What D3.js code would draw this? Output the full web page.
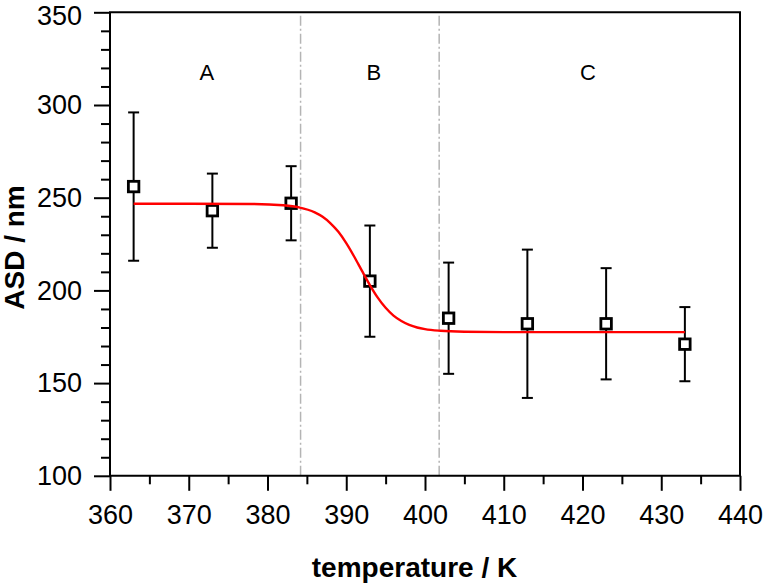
<!DOCTYPE html>
<html>
<head>
<meta charset="utf-8">
<script src="https://cdn.jsdelivr.net/npm/d3@7"></script>
<style>
  html, body { margin: 0; padding: 0; background: #fff; }
  svg text { font-family: "Liberation Sans", Arial, Helvetica, sans-serif; }
</style>
</head>
<body>
<svg id="chart" width="763" height="584"></svg>
<script>
// ---- data ----
const temperature = [363, 373, 383, 393, 403, 413, 423, 433];
const asd        = [256, 243, 247, 205, 185, 182, 182, 171];
const asdError   = [40, 20, 20, 30, 30, 40, 30, 20];

// fitted sigmoid curve
const fitT   = [363, 370, 378, 382, 384, 386, 387, 388, 389, 390, 391, 392, 393, 394, 395, 396, 397, 398, 399, 400, 402, 405, 410, 433];
const fitASD = [246.7, 246.7, 246.6, 245.9, 244.8, 242.1, 239.7, 236.2, 231.6, 225.5, 218.3, 210.5, 202.9, 196.1, 190.6, 186.4, 183.5, 181.4, 180.0, 179.1, 178.2, 177.7, 177.5, 177.5];

const regionBounds  = [384.2, 401.8];
const regionLabels  = ["A", "B", "C"];
const regionCenters = [372.3, 393.5, 420.7];

const xMajorTicks = [360, 370, 380, 390, 400, 410, 420, 430, 440];
const xMinorTicks = [365, 375, 385, 395, 405, 415, 425, 435];
const yMajorTicks = [100, 150, 200, 250, 300, 350];
const yMinorTicks = [110, 120, 130, 140, 160, 170, 180, 190, 210, 220, 230, 240, 260, 270, 280, 290, 310, 320, 330, 340];

const xTitle = "temperature / K";
const yTitle = "ASD / nm";

// ---- layout ----
const L = 110, R = 740, T = 12.3, B = 475.8;
const svg = d3.select("#chart");
const x = d3.scaleLinear().domain([360, 440]).range([L, R]);
const y = d3.scaleLinear().domain([100, 350]).range([B, T]);

// region separators (dash-dot)
svg.append("g").selectAll("line").data(regionBounds).join("line")
  .attr("x1", d => x(d)).attr("x2", d => x(d))
  .attr("y1", B).attr("y2", T)
  .attr("stroke", "#b4b4b4").attr("stroke-width", 1.5)
  .attr("stroke-dasharray", "10,3,2,3");

// region labels
svg.append("g").selectAll("text").data(regionLabels).join("text")
  .attr("x", (d, i) => x(regionCenters[i]))
  .attr("y", 79.5)
  .attr("text-anchor", "middle")
  .attr("font-size", 22)
  .attr("fill", "#000")
  .text(d => d);

// axes
const axisStyle = g => {
  g.select(".domain").remove();
  g.selectAll("line").attr("stroke", "#000").attr("stroke-width", 2);
  g.selectAll("text").attr("font-size", 27).attr("fill", "#000")
    .attr("font-family", "'Liberation Sans', Arial, sans-serif");
};

svg.append("g").attr("transform", `translate(0,${B})`)
  .call(d3.axisBottom(x).tickValues(xMajorTicks).tickSize(15).tickPadding(14).tickFormat(d3.format("d")))
  .call(axisStyle);
svg.append("g").attr("transform", `translate(0,${B})`)
  .call(d3.axisBottom(x).tickValues(xMinorTicks).tickSize(8.5).tickFormat(""))
  .call(axisStyle);
const yAxisG = svg.append("g").attr("transform", `translate(${L},0)`)
  .call(d3.axisLeft(y).tickValues(yMajorTicks).tickSize(16).tickPadding(12).tickFormat(d3.format("d")))
  .call(axisStyle);
// keep the topmost label inside the picture
yAxisG.selectAll(".tick").filter(d => d === 350).select("text").attr("dy", "0.45em");
svg.append("g").attr("transform", `translate(${L},0)`)
  .call(d3.axisLeft(y).tickValues(yMinorTicks).tickSize(9).tickFormat(""))
  .call(axisStyle);

// frame
svg.append("path")
  .attr("d", `M${L},${B}L${L},${T}L${R},${T}L${R},${B}L${L},${B}`)
  .attr("fill", "none").attr("stroke", "#000").attr("stroke-width", 2)
  .attr("stroke-linecap", "square");

// error bars
const eb = svg.append("g").attr("stroke", "#000").attr("stroke-width", 2);
temperature.forEach((t, i) => {
  const cx = x(t), top = y(asd[i] + asdError[i]), bot = y(asd[i] - asdError[i]);
  eb.append("line").attr("x1", cx).attr("x2", cx).attr("y1", top).attr("y2", bot);
  eb.append("line").attr("x1", cx - 5.5).attr("x2", cx + 5.5).attr("y1", top).attr("y2", top);
  eb.append("line").attr("x1", cx - 5.5).attr("x2", cx + 5.5).attr("y1", bot).attr("y2", bot);
});

// markers
const s = 10.5;
svg.append("g").selectAll("rect").data(temperature).join("rect")
  .attr("x", d => x(d) - s / 2)
  .attr("y", (d, i) => y(asd[i]) - s / 2)
  .attr("width", s).attr("height", s)
  .attr("fill", "#fff").attr("stroke", "#000").attr("stroke-width", 2.8);

// fit curve
const line = d3.line().x(d => x(d[0])).y(d => y(d[1])).curve(d3.curveMonotoneX);
svg.append("path")
  .datum(fitT.map((t, i) => [t, fitASD[i]]))
  .attr("d", line)
  .attr("fill", "none").attr("stroke", "#ff0000").attr("stroke-width", 2.4);

// axis titles
svg.append("text")
  .attr("x", 414.5).attr("y", 576.5)
  .attr("text-anchor", "middle")
  .attr("font-size", 28).attr("font-weight", "bold").attr("fill", "#000")
  .text(xTitle);
svg.append("text")
  .attr("transform", "translate(23.5,247.5) rotate(-90)")
  .attr("text-anchor", "middle")
  .attr("font-size", 28).attr("font-weight", "bold").attr("fill", "#000")
  .text(yTitle);
</script>
</body>
</html>
